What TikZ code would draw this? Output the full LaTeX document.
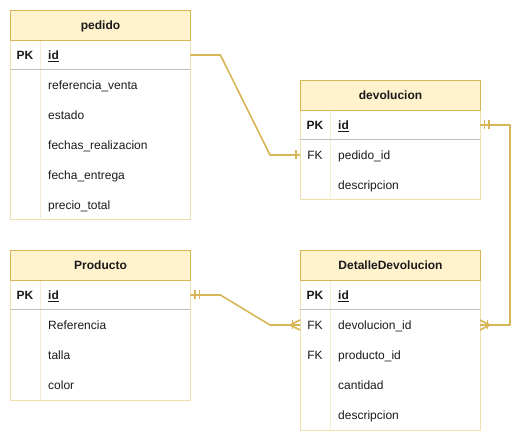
\documentclass[tikz,border=0pt]{standalone}
\usepackage{fontspec}
\setmainfont{Liberation Sans}
\usetikzlibrary{calc}
\definecolor{hdrfill}{HTML}{FFF2CC}
\definecolor{hdrline}{HTML}{D6B656}
\definecolor{bodyline}{HTML}{EEDFAE}
\definecolor{colline}{HTML}{F6EDD0}
\definecolor{pkline}{HTML}{BFBFBF}
\definecolor{txt}{HTML}{1A1A1A}
\tikzset{
  hdr/.style={draw=hdrline, fill=hdrfill, line width=1pt, minimum width=180pt, minimum height=30pt, anchor=north west, inner sep=0pt, text height=10.5pt, text depth=1.5pt, font=\fontsize{12}{14}\selectfont\bfseries, text=txt},
  bodybox/.style={draw=bodyline, line width=1pt},
  colsep/.style={draw=colline, line width=1pt},
  pksep/.style={draw=pkline, line width=1pt},
  keytxt/.style={anchor=center, inner sep=0pt, text height=10.5pt, text depth=1.5pt, font=\fontsize{12}{14}\selectfont, text=txt},
  rowtxt/.style={anchor=west, minimum width=150pt, minimum height=30pt, inner xsep=8pt, inner ysep=0pt, text height=10.5pt, text depth=1.5pt, align=left, text width=134pt, font=\fontsize{12}{14}\selectfont, text=txt},
  conn/.style={draw=hdrline, line width=1.6pt, line join=round},
  tickmark/.style={draw=hdrline, line width=1.6pt}
}
\begin{document}
\begin{tikzpicture}[x=1pt,y=-1pt]
\useasboundingbox (0,0) rectangle (531,441);
% ---------- pedido ----------
\draw[bodybox] (10,40) rectangle (190,220);
\draw[colsep] (40,40) -- (40,220);
\draw[pksep] (10,70) -- (190,70);
\node[hdr] (pedido) at (10,10) {pedido};
\node[keytxt,font=\fontsize{12}{14}\selectfont\bfseries] (pedido-pk) at (25,55) {PK};
\node[rowtxt,font=\fontsize{12}{14}\selectfont\bfseries] (pedido-id) at (40,55) {\underline{id}};
\node[rowtxt] (pedido-r1) at (40,85) {referencia\_venta};
\node[rowtxt] (pedido-r2) at (40,115) {estado};
\node[rowtxt] (pedido-r3) at (40,145) {fechas\_realizacion};
\node[rowtxt] (pedido-r4) at (40,175) {fecha\_entrega};
\node[rowtxt] (pedido-r5) at (40,205) {precio\_total};
% ---------- devolucion ----------
\draw[bodybox] (300,110) rectangle (480,200);
\draw[colsep] (330,110) -- (330,200);
\draw[pksep] (300,140) -- (480,140);
\node[hdr] (devolucion) at (300,80) {devolucion};
\node[keytxt,font=\fontsize{12}{14}\selectfont\bfseries] (dev-pk) at (315,125) {PK};
\node[rowtxt,font=\fontsize{12}{14}\selectfont\bfseries] (dev-id) at (330,125) {\underline{id}};
\node[keytxt] (dev-fk) at (315,155) {FK};
\node[rowtxt] (dev-r1) at (330,155) {pedido\_id};
\node[rowtxt] (dev-r2) at (330,185) {descripcion};
% ---------- Producto ----------
\draw[bodybox] (10,280) rectangle (190,400);
\draw[colsep] (40,280) -- (40,400);
\draw[pksep] (10,310) -- (190,310);
\node[hdr] (producto) at (10,250) {Producto};
\node[keytxt,font=\fontsize{12}{14}\selectfont\bfseries] (prod-pk) at (25,295) {PK};
\node[rowtxt,font=\fontsize{12}{14}\selectfont\bfseries] (prod-id) at (40,295) {\underline{id}};
\node[rowtxt] (prod-r1) at (40,325) {Referencia};
\node[rowtxt] (prod-r2) at (40,355) {talla};
\node[rowtxt] (prod-r3) at (40,385) {color};
% ---------- DetalleDevolucion ----------
\draw[bodybox] (300,280) rectangle (480,430);
\draw[colsep] (330,280) -- (330,430);
\draw[pksep] (300,310) -- (480,310);
\node[hdr] (detalle) at (300,250) {DetalleDevolucion};
\node[keytxt,font=\fontsize{12}{14}\selectfont\bfseries] (det-pk) at (315,295) {PK};
\node[rowtxt,font=\fontsize{12}{14}\selectfont\bfseries] (det-id) at (330,295) {\underline{id}};
\node[keytxt] (det-fk1) at (315,325) {FK};
\node[rowtxt] (det-r1) at (330,325) {devolucion\_id};
\node[keytxt] (det-fk2) at (315,355) {FK};
\node[rowtxt] (det-r2) at (330,355) {producto\_id};
\node[rowtxt] (det-r3) at (330,385) {cantidad};
\node[rowtxt] (det-r4) at (330,415) {descripcion};
% ---------- connectors ----------
\coordinate (dev-in) at ($(dev-fk.center)+(-15,0)$);
\coordinate (det-in) at ($(det-fk1.center)+(-15,0)$);
% pedido.id -> devolucion.pedido_id (one)
\draw[conn] (pedido-id.east) -- ++(30,0) -- (270,155) -- (dev-in);
\draw[tickmark] (296,150.5) -- (296,159.5);
% devolucion.id -> DetalleDevolucion.devolucion_id
\draw[conn] (dev-id.east) -- (510,125) -- (510,325) -- (det-r1.east);
\draw[tickmark] (484.5,120.5) -- (484.5,129.5);
\draw[tickmark] (489,120.5) -- (489,129.5);
\draw[tickmark] (480,320) -- (490,325) -- (480,330);
\draw[tickmark] (487.5,320.5) -- (487.5,329.5);
% Producto.id -> DetalleDevolucion.devolucion_id
\draw[conn] (prod-id.east) -- ++(30,0) -- (270,325) -- (det-in);
\draw[tickmark] (195,290.5) -- (195,299.5);
\draw[tickmark] (199.5,290.5) -- (199.5,299.5);
\draw[tickmark] (300,320) -- (290,325) -- (300,330);
\draw[tickmark] (292.5,320.5) -- (292.5,329.5);
\end{tikzpicture}
\end{document}
